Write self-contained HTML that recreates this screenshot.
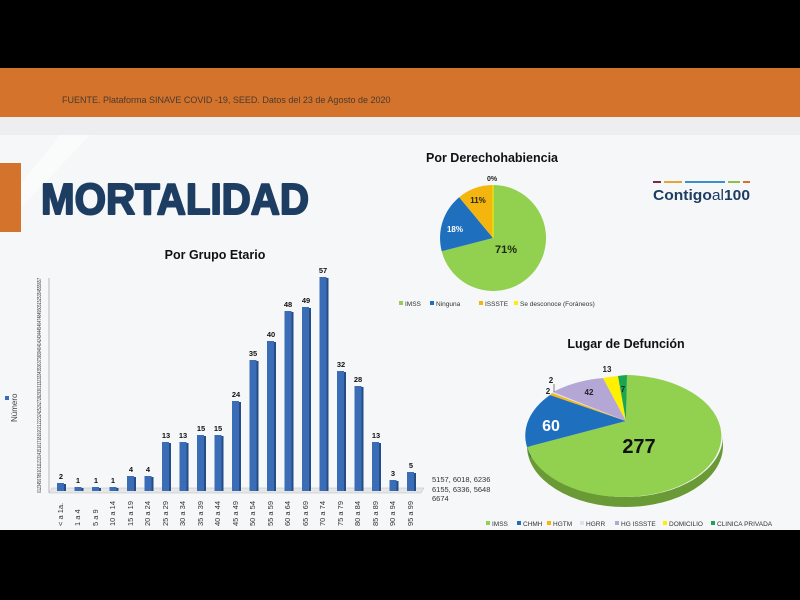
<!DOCTYPE html>
<html><head><meta charset="utf-8"><style>
html,body{margin:0;padding:0;width:800px;height:600px;overflow:hidden;background:#000}
svg{display:block}
text{font-family:"Liberation Sans",sans-serif}
</style></head><body>
<svg width="800" height="600" viewBox="0 0 800 600" xmlns="http://www.w3.org/2000/svg">
<rect x="0" y="0" width="800" height="600" fill="#000"/>
<rect x="0" y="68" width="800" height="49" fill="#d4732b"/>
<rect x="0" y="117" width="800" height="18" fill="#eceeef"/>
<rect x="0" y="135" width="800" height="395" fill="#f6f7f8"/>
<polygon points="60,135 90,135 0,230 0,210" fill="#fafbfb"/>
<text x="62" y="103" font-size="9" fill="#4a3a30">FUENTE. Plataforma SINAVE COVID -19, SEED. Datos del 23 de Agosto de 2020</text>
<rect x="0" y="163" width="21" height="69" fill="#d4732b"/>
<text x="41" y="214" font-size="44" font-weight="bold" fill="#1d3d63" stroke="#1d3d63" stroke-width="2" stroke-linejoin="round" textLength="268" lengthAdjust="spacingAndGlyphs">MORTALIDAD</text>
<!-- logo -->
<rect x="653" y="181" width="8" height="2" fill="#7b2a4a"/><rect x="664" y="181" width="18" height="2" fill="#e3a43a"/><rect x="685" y="181" width="40" height="2" fill="#3d8fc8"/><rect x="728" y="181" width="12" height="2" fill="#8cc04a"/><rect x="743" y="181" width="7" height="2" fill="#d4732b"/>
<text x="653" y="200" font-size="15" font-weight="bold" fill="#1d3d63" textLength="97" lengthAdjust="spacingAndGlyphs">Contigo<tspan font-weight="normal">al</tspan>100</text>

<!-- bar chart -->
<text x="215" y="259" font-size="12.5" font-weight="bold" fill="#111" text-anchor="middle">Por Grupo Etario</text>
<rect x="5" y="396" width="4" height="4" fill="#3a6db5"/>
<text transform="translate(17,422) rotate(-90)" font-size="8" fill="#444">Número</text>
<text transform="translate(41,493) rotate(-90)" font-size="5" fill="#333" textLength="215" lengthAdjust="spacingAndGlyphs">0123456789101112131415161718192021222324252627282930313233343536373839404142434445464748495051525354555657</text>
<line x1="49" y1="278" x2="49" y2="493" stroke="#aaa" stroke-width="0.8"/>
<polygon points="49,493 52,488 424,488 421,493" fill="#e4e6e8" stroke="#bbb" stroke-width="0.5"/>
<g fill="#3a6db5">
<rect x="57" y="483" width="7" height="8"/><rect x="74.5" y="487" width="7" height="4"/><rect x="92" y="487" width="7" height="4"/><rect x="109.5" y="487" width="7" height="4"/><rect x="127" y="476" width="7" height="15"/><rect x="144.5" y="476" width="7" height="15"/><rect x="162" y="442" width="7" height="49"/><rect x="179.5" y="442" width="7" height="49"/><rect x="197" y="435" width="7" height="56"/><rect x="214.5" y="435" width="7" height="56"/><rect x="232" y="401" width="7" height="90"/><rect x="249.5" y="360" width="7" height="131"/><rect x="267" y="341" width="7" height="150"/><rect x="284.5" y="311" width="7" height="180"/><rect x="302" y="307" width="7" height="184"/><rect x="319.5" y="277" width="7" height="214"/><rect x="337" y="371" width="7" height="120"/><rect x="354.5" y="386" width="7" height="105"/><rect x="372" y="442" width="7" height="49"/><rect x="389.5" y="480" width="7" height="11"/><rect x="407" y="472" width="7" height="19"/>
</g>
<g fill="#244d88">
<rect x="64" y="484" width="2" height="7"/><rect x="81.5" y="488" width="2" height="3"/><rect x="99" y="488" width="2" height="3"/><rect x="116.5" y="488" width="2" height="3"/><rect x="134" y="477" width="2" height="14"/><rect x="151.5" y="477" width="2" height="14"/><rect x="169" y="443" width="2" height="48"/><rect x="186.5" y="443" width="2" height="48"/><rect x="204" y="436" width="2" height="55"/><rect x="221.5" y="436" width="2" height="55"/><rect x="239" y="402" width="2" height="89"/><rect x="256.5" y="361" width="2" height="130"/><rect x="274" y="342" width="2" height="149"/><rect x="291.5" y="312" width="2" height="179"/><rect x="309" y="308" width="2" height="183"/><rect x="326.5" y="278" width="2" height="213"/><rect x="344" y="372" width="2" height="119"/><rect x="361.5" y="387" width="2" height="104"/><rect x="379" y="443" width="2" height="48"/><rect x="396.5" y="481" width="2" height="10"/><rect x="414" y="473" width="2" height="18"/>
</g>
<g font-size="7.5" font-weight="bold" fill="#111" text-anchor="middle">
<text x="61" y="479">2</text><text x="78" y="483">1</text><text x="96" y="483">1</text><text x="113" y="483">1</text><text x="131" y="472">4</text><text x="148" y="472">4</text><text x="166" y="438">13</text><text x="183" y="438">13</text><text x="201" y="431">15</text><text x="218" y="431">15</text><text x="236" y="397">24</text><text x="253" y="356">35</text><text x="271" y="337">40</text><text x="288" y="307">48</text><text x="306" y="303">49</text><text x="323" y="273">57</text><text x="341" y="367">32</text><text x="358" y="382">28</text><text x="376" y="438">13</text><text x="393" y="476">3</text><text x="411" y="468">5</text>
</g>
<g font-size="7.5" fill="#333">
<text transform="translate(63,526) rotate(-90)">&lt; a 1a.</text><text transform="translate(80,526) rotate(-90)">1 a 4</text><text transform="translate(98,526) rotate(-90)">5 a 9</text><text transform="translate(115,526) rotate(-90)">10 a 14</text><text transform="translate(133,526) rotate(-90)">15 a 19</text><text transform="translate(150,526) rotate(-90)">20 a 24</text><text transform="translate(168,526) rotate(-90)">25 a 29</text><text transform="translate(185,526) rotate(-90)">30 a 34</text><text transform="translate(203,526) rotate(-90)">35 a 39</text><text transform="translate(220,526) rotate(-90)">40 a 44</text><text transform="translate(238,526) rotate(-90)">45 a 49</text><text transform="translate(255,526) rotate(-90)">50 a 54</text><text transform="translate(273,526) rotate(-90)">55 a 59</text><text transform="translate(290,526) rotate(-90)">60 a 64</text><text transform="translate(308,526) rotate(-90)">65 a 69</text><text transform="translate(325,526) rotate(-90)">70 a 74</text><text transform="translate(343,526) rotate(-90)">75 a 79</text><text transform="translate(360,526) rotate(-90)">80 a 84</text><text transform="translate(378,526) rotate(-90)">85 a 89</text><text transform="translate(395,526) rotate(-90)">90 a 94</text><text transform="translate(413,526) rotate(-90)">95 a 99</text>
</g>
<g font-size="7.5" fill="#333"><text x="432" y="482">5157, 6018, 6236</text><text x="432" y="492">6155, 6336, 5648</text><text x="432" y="501">6674</text></g>

<!-- pie 1 -->
<text x="492" y="162" font-size="12.5" font-weight="bold" fill="#111" text-anchor="middle">Por Derechohabiencia</text>
<path d="M493,238 L493,185 A53,53 0 1,1 441.7,251.2 Z" fill="#92d050"/>
<path d="M493,238 L441.7,251.2 A53,53 0 0,1 459.2,197.2 Z" fill="#1f6fbf"/>
<path d="M493,238 L459.2,197.2 A53,53 0 0,1 493,185 Z" fill="#f5b50f"/>
<path d="M493,238 L493,185" stroke="#ffef00" stroke-width="1"/>
<text x="506" y="253" font-size="11" font-weight="bold" fill="#1a2a10" text-anchor="middle">71%</text>
<text x="455" y="232" font-size="8" font-weight="bold" fill="#fff" text-anchor="middle">18%</text>
<text x="478" y="203" font-size="8" font-weight="bold" fill="#222" text-anchor="middle">11%</text>
<text x="492" y="181" font-size="7" font-weight="bold" fill="#222" text-anchor="middle">0%</text>
<g font-size="6.5" fill="#333">
<rect x="399" y="301" width="4" height="4" fill="#92d050"/><text x="405" y="306">IMSS</text>
<rect x="430" y="301" width="4" height="4" fill="#1f6fbf"/><text x="436" y="306">Ninguna</text>
<rect x="479" y="301" width="4" height="4" fill="#f5b50f"/><text x="485" y="306">ISSSTE</text>
<rect x="514" y="301" width="4" height="4" fill="#ffef00"/><text x="520" y="306">Se desconoce (Foráneos)</text>
</g>

<!-- pie 2 -->
<text x="626" y="348" font-size="12.5" font-weight="bold" fill="#111" text-anchor="middle">Lugar de Defunción</text>
<path d="M527,436 A98,61 0 0,0 723,436 L723,446 A98,61 0 0,1 527,446 Z" fill="#6a9a35"/>
<path d="M527,436 L527,446 A98,61 0 0,0 531,458 L531,449 Z" fill="#15548f"/>
<path d="M626,421 L627,375 A98,61 0 1,1 527,447 Z" fill="#92d050"/>
<path d="M626,421 L527,447 A98,61 0 0,1 550,395 Z" fill="#1f6fbf"/>
<path d="M626,421 L550,395 A98,61 0 0,1 552,393 Z" fill="#f5b50f"/>
<path d="M626,421 L552,393 A98,61 0 0,1 553,392 Z" fill="#dde3ea"/>
<path d="M626,421 L553,392 A98,61 0 0,1 603,378 Z" fill="#b4a7d6"/>
<path d="M626,421 L603,378 A98,61 0 0,1 618,376 Z" fill="#ffef00"/>
<path d="M626,421 L618,376 A98,61 0 0,1 627,375 Z" fill="#1aa551"/>
<text x="639" y="453" font-size="20" font-weight="bold" fill="#111" text-anchor="middle">277</text>
<text x="551" y="431" font-size="16" font-weight="bold" fill="#fff" text-anchor="middle">60</text>
<text x="589" y="395" font-size="8" font-weight="bold" fill="#222" text-anchor="middle">42</text>
<text x="548" y="394" font-size="8" font-weight="bold" fill="#222" text-anchor="middle">2</text>
<text x="551" y="383" font-size="8" font-weight="bold" fill="#222" text-anchor="middle">2</text>
<line x1="554" y1="384" x2="554" y2="392" stroke="#333" stroke-width="0.6"/>
<text x="607" y="372" font-size="8" font-weight="bold" fill="#222" text-anchor="middle">13</text>
<text x="623" y="392" font-size="8" font-weight="bold" fill="#222" text-anchor="middle">7</text>
<g font-size="6.5" fill="#333">
<rect x="486" y="521" width="4" height="4" fill="#92d050"/><text x="492" y="526">IMSS</text>
<rect x="517" y="521" width="4" height="4" fill="#1f6fbf"/><text x="523" y="526">CHMH</text>
<rect x="547" y="521" width="4" height="4" fill="#f5b50f"/><text x="553" y="526">HGTM</text>
<rect x="580" y="521" width="4" height="4" fill="#dde3ea"/><text x="586" y="526">HGRR</text>
<rect x="615" y="521" width="4" height="4" fill="#b4a7d6"/><text x="621" y="526">HG ISSSTE</text>
<rect x="663" y="521" width="4" height="4" fill="#ffef00"/><text x="669" y="526">DOMICILIO</text>
<rect x="711" y="521" width="4" height="4" fill="#1aa551"/><text x="717" y="526">CLINICA PRIVADA</text>
</g>
</svg>
</body></html>
